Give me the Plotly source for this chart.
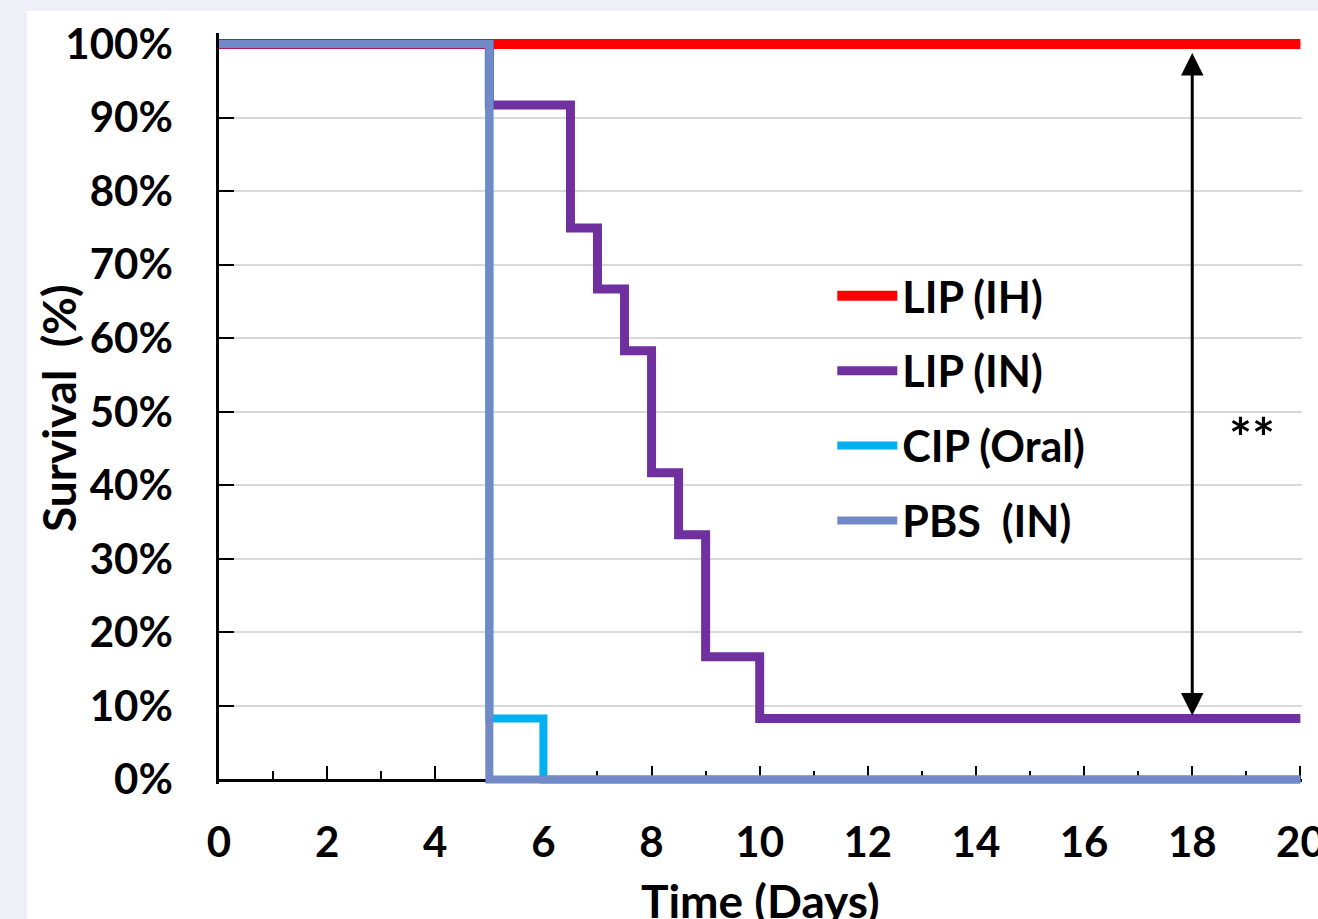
import plotly.graph_objects as go

# ---- data ----
lip_ih_days = [0, 20]
lip_ih_surv = [100, 100]

lip_in_days = [0, 5, 6.5, 7, 7.5, 8, 8.5, 9, 10, 20]
lip_in_surv = [100, 91.7, 75, 66.7, 58.3, 41.7, 33.3, 16.7, 8.3, 8.3]

cip_days = [0, 5, 6, 20]
cip_surv = [100, 8.3, 0, 0]

pbs_days = [0, 5, 20]
pbs_surv = [100, 0, 0]

series_names = ["LIP (IH)", "LIP (IN)", "CIP (Oral)", "PBS\u00a0\u00a0(IN)"]
y_ticks = list(range(0, 101, 10))
y_ticktext = [f"{v}%" for v in y_ticks]

FONT = "Lato"
W, H = 1318, 919
ML, MR, MT, MB = 219, 16, 33, 135
PW, PH = W - ML - MR, H - MT - MB
Y_RANGE = [-0.6, 101.5]

def px_x(p):
    return (p - ML) / PW

def px_y(p):
    return (H - MB - p) / PH

fig = go.Figure()
specs = [
    (lip_ih_days, lip_ih_surv, "#FF0000", 10),
    (lip_in_days, lip_in_surv, "#7030A0", 9),
    (cip_days, cip_surv, "#00B0F0", 8),
    (pbs_days, pbs_surv, "#7189C6", 8),
]
for i, ((xs, ys, col, w), name) in enumerate(zip(specs, series_names)):
    fig.add_trace(go.Scatter(
        x=xs, y=ys, mode="lines", name=name, line_shape="hv",
        line=dict(color=col, width=w), legendgroup=f"g{i}",
    ))

fig.update_layout(
    width=W, height=H, autosize=False,
    margin=dict(l=ML, r=MR, t=MT, b=MB, pad=0, autoexpand=False),
    paper_bgcolor="#EDF0F6", plot_bgcolor="white",
    font=dict(family=FONT, size=42, color="black"),
    showlegend=True,
    legend=dict(
        x=0.5663, y=0.696, xanchor="left", yanchor="top",
        bgcolor="rgba(0,0,0,0)", font=dict(family=FONT, size=43, color="black", weight="bold"),
        itemwidth=60, tracegroupgap=16,
    ),
    shapes=[dict(type="rect", xref="paper", yref="paper", layer="below",
                 x0=px_x(27), x1=1.1, y0=-0.3, y1=px_y(11),
                 fillcolor="white", line=dict(width=0))],
)

fig.update_xaxes(
    range=[0, 20.03], tick0=0, dtick=2, showgrid=False, zeroline=False, automargin=False,
    anchor="free", position=(0 - Y_RANGE[0]) / (Y_RANGE[1] - Y_RANGE[0]),
    showline=True, linecolor="black", linewidth=2.5, layer="below traces",
    ticks="inside", ticklen=13, tickwidth=2, tickcolor="black",
    tickfont=dict(family=FONT, size=42, color="black", weight="bold"),
    ticklabelstandoff=25, ticklabeloverflow="allow",
    minor=dict(dtick=1, tick0=0, ticks="inside", ticklen=8, tickwidth=2, tickcolor="black", showgrid=False),
)
fig.update_yaxes(
    range=Y_RANGE, tickvals=y_ticks, ticktext=y_ticktext, automargin=False,
    showgrid=True, gridcolor="#D9D9D9", gridwidth=2, zeroline=False,
    showline=True, linecolor="black", linewidth=2.5, layer="below traces",
    ticks="inside", ticklen=15, tickwidth=2, tickcolor="black",
    tickfont=dict(family=FONT, size=42, color="black", weight="bold"),
    ticklabelstandoff=35,
)

fig.add_annotation(x=18, y=8.7, ax=18, ay=99.0, axref="x", ayref="y", xref="x", yref="y",
                   text="", showarrow=True, arrowhead=2, startarrowhead=2, arrowside="end+start",
                   arrowwidth=3, arrowsize=1.5, startarrowsize=1.5, arrowcolor="black")
fig.add_annotation(x=19.11, y=46.7, xref="x", yref="y", text="**", showarrow=False,
                   xanchor="center", yanchor="middle",
                   font=dict(family=FONT, size=54, color="black", weight="bold"))
fig.add_annotation(x=px_x(59), y=px_y(408), xref="paper", yref="paper", text="Survival\u00a0\u00a0(%)",
                   textangle=-90, showarrow=False, xanchor="center", yanchor="middle",
                   font=dict(family=FONT, size=46, color="black", weight="bold"))
fig.add_annotation(x=px_x(760), y=px_y(900), xref="paper", yref="paper", text="Time (Days)",
                   showarrow=False, xanchor="center", yanchor="middle",
                   font=dict(family=FONT, size=46, color="black", weight="bold"))

fig.write_html("out.html", config={"displayModeBar": False},
               post_script="document.body.style.margin='0';document.body.style.overflow='hidden';")
